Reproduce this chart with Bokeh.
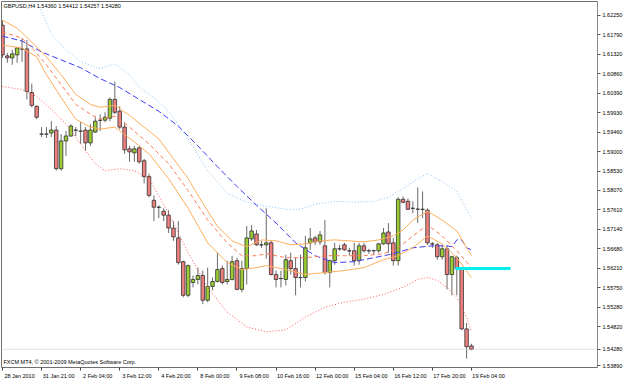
from bokeh.plotting import figure
from bokeh.models import Range1d, FixedTicker, Label, Span, PrintfTickFormatter, ColumnDataSource
from bokeh.embed import file_html
from bokeh.resources import INLINE

# ---------------- data (GBPUSD, H4) ----------------
bars = list(range(97))
opens = [1.62014, 1.61282, 1.61235, 1.61306, 1.61448, 1.61448, 1.60408, 1.60078, 1.59417, 1.59414,
         1.59441, 1.59511, 1.58590, 1.59252, 1.59370, 1.59511, 1.59488, 1.59511, 1.59205, 1.59464,
         1.59747, 1.59747, 1.59795, 1.60243, 1.59960, 1.59582, 1.59063, 1.58968, 1.59087, 1.58779,
         1.58401, 1.57835, 1.57670, 1.57575, 1.57481, 1.57174, 1.56938, 1.56371, 1.55568, 1.55875,
         1.55946, 1.56040, 1.55450, 1.55780, 1.55898, 1.56206, 1.55898, 1.55946, 1.56395, 1.55710,
         1.56206, 1.56914, 1.57032, 1.56773, 1.56773, 1.56820, 1.56064, 1.55969, 1.55946, 1.56395,
         1.56206, 1.55993, 1.55993, 1.56820, 1.56938, 1.56844, 1.56749, 1.56111, 1.56395, 1.56678,
         1.56773, 1.56631, 1.56631, 1.56395, 1.56749, 1.56631, 1.56631, 1.56631, 1.56796, 1.57079,
         1.56820, 1.56395, 1.57859, 1.57811, 1.57646, 1.57625, 1.57622, 1.57599, 1.56796, 1.56773,
         1.56489, 1.56678, 1.56064, 1.56465, 1.56206, 1.54766, 1.54360]
highs = [1.62132, 1.61353, 1.61424, 1.61495, 1.61707, 1.61660, 1.60621, 1.60101, 1.59582, 1.59582,
         1.59724, 1.59606, 1.59417, 1.59488, 1.59653, 1.59582, 1.59700, 1.59582, 1.59653, 1.59818,
         1.59889, 1.59936, 1.60290, 1.60668, 1.60078, 1.59700, 1.59134, 1.59134, 1.59134, 1.58826,
         1.58472, 1.57953, 1.57717, 1.57646, 1.57599, 1.57339, 1.57339, 1.56395, 1.56301, 1.56040,
         1.56229, 1.56158, 1.56229, 1.55993, 1.56584, 1.56277, 1.56395, 1.56513, 1.56465, 1.56395,
         1.57221, 1.57245, 1.57127, 1.56867, 1.57646, 1.56867, 1.56158, 1.56158, 1.56537, 1.56584,
         1.56465, 1.56537, 1.56986, 1.57174, 1.56986, 1.57103, 1.57363, 1.56418, 1.56820, 1.56773,
         1.56820, 1.56702, 1.56820, 1.56820, 1.56820, 1.56678, 1.56655, 1.56820, 1.57174, 1.57292,
         1.56938, 1.57906, 1.57929, 1.57882, 1.57811, 1.58141, 1.58047, 1.57646, 1.56844, 1.56820,
         1.56773, 1.56749, 1.56513, 1.56513, 1.56229, 1.54907, 1.54412]
lows = [1.61235, 1.61116, 1.61069, 1.61116, 1.61140, 1.60243, 1.60054, 1.59771, 1.59346, 1.59323,
        1.59346, 1.58543, 1.58543, 1.58897, 1.59346, 1.59370, 1.59181, 1.59016, 1.59134, 1.59441,
        1.59488, 1.59700, 1.59724, 1.59889, 1.59535, 1.58945, 1.58755, 1.58755, 1.58708, 1.58236,
        1.57906, 1.57339, 1.57410, 1.57339, 1.57056, 1.56867, 1.56301, 1.55521, 1.55521, 1.55757,
        1.55828, 1.55355, 1.55403, 1.55686, 1.55875, 1.55828, 1.55828, 1.55922, 1.55686, 1.55639,
        1.55828, 1.56867, 1.56749, 1.56702, 1.56441, 1.56040, 1.55757, 1.55757, 1.55804, 1.56064,
        1.55568, 1.55757, 1.55898, 1.56655, 1.56773, 1.56773, 1.56064, 1.55757, 1.56301, 1.56631,
        1.56631, 1.56513, 1.56277, 1.56301, 1.56584, 1.56560, 1.56537, 1.56584, 1.56773, 1.56584,
        1.56277, 1.56277, 1.57764, 1.57599, 1.57528, 1.57292, 1.57410, 1.56773, 1.56702, 1.56418,
        1.56418, 1.55710, 1.55568, 1.55568, 1.54742, 1.54057, 1.54257]
closes = [1.61306, 1.61235, 1.61330, 1.61471, 1.61445, 1.60432, 1.60101, 1.59818, 1.59414, 1.59417,
          1.59511, 1.58590, 1.59252, 1.59370, 1.59606, 1.59508, 1.59485, 1.59205, 1.59511, 1.59724,
          1.59744, 1.59818, 1.60243, 1.59936, 1.59582, 1.59039, 1.58992, 1.59063, 1.58755, 1.58401,
          1.57953, 1.57670, 1.57667, 1.57481, 1.57174, 1.56962, 1.56348, 1.55568, 1.56277, 1.55946,
          1.56040, 1.55450, 1.55780, 1.55898, 1.56182, 1.55875, 1.55946, 1.56371, 1.55710, 1.56206,
          1.56938, 1.57103, 1.56773, 1.56770, 1.56820, 1.56064, 1.55946, 1.55966, 1.56418, 1.56206,
          1.55993, 1.55990, 1.56702, 1.56914, 1.56844, 1.57009, 1.56111, 1.56395, 1.56678, 1.56675,
          1.56655, 1.56628, 1.56395, 1.56749, 1.56631, 1.56628, 1.56634, 1.56796, 1.57056, 1.56796,
          1.56395, 1.57859, 1.57788, 1.57622, 1.57643, 1.57622, 1.57619, 1.56820, 1.56793, 1.56489,
          1.56678, 1.56064, 1.56489, 1.56206, 1.54766, 1.54341, 1.54280]

# indicator lines (bar index, price)
upper_dot_bars = [0, 4, 7, 10, 13, 16, 20, 23, 26, 28, 31, 34, 38, 42, 46, 50, 54, 58, 61, 64,
                  68, 72, 76, 79, 82, 85, 87, 90, 93, 96]
upper_dot_vals = [1.63666, 1.63123, 1.62604, 1.61801, 1.61424, 1.61140, 1.60975, 1.61093, 1.60833, 1.60526,
                  1.60290, 1.59960, 1.59299, 1.58543, 1.58000, 1.57788, 1.57693, 1.57622, 1.57622, 1.57740,
                  1.57811, 1.57788, 1.57811, 1.57906, 1.58118, 1.58354, 1.58472, 1.58283, 1.58047, 1.57410]
ma_bars = [0, 4, 8, 12, 16, 20, 24, 28, 32, 36, 40, 44, 48, 52, 56, 60, 64, 68, 72, 76,
           80, 84, 88, 91, 92, 93, 94, 95, 96]
ma_vals = [1.61754, 1.61636, 1.61376, 1.61187, 1.60999, 1.60739, 1.60526, 1.60243, 1.59960, 1.59606,
           1.59133, 1.58638, 1.58165, 1.57717, 1.57292, 1.56820, 1.56513, 1.56348, 1.56371, 1.56465,
           1.56560, 1.56702, 1.56749, 1.56749, 1.56725, 1.56891, 1.56891, 1.56702, 1.56655]
env_up_bars = [0, 3, 6, 9, 12, 15, 18, 20, 23, 26, 29, 32, 35, 38, 41, 44, 47, 50, 53, 56,
               59, 62, 65, 68, 71, 74, 77, 80, 82, 84, 87, 90, 93, 96]
env_up_vals = [1.62132, 1.61943, 1.61612, 1.61258, 1.60833, 1.60361, 1.60125, 1.60054, 1.60101, 1.59865,
               1.59582, 1.59299, 1.58826, 1.58354, 1.57764, 1.57221, 1.56867, 1.56725, 1.56891, 1.56867,
               1.56773, 1.56796, 1.56867, 1.56891, 1.56867, 1.56843, 1.56891, 1.56985, 1.57127, 1.57363,
               1.57575, 1.57363, 1.57103, 1.56513]
env_mid_bars = [0, 4, 6, 9, 12, 15, 18, 20, 23, 26, 30, 34, 38, 42, 46, 49, 52, 54, 58, 62,
                66, 70, 74, 78, 81, 84, 87, 90, 93, 96]
env_mid_vals = [1.61849, 1.61707, 1.61471, 1.61069, 1.60597, 1.60125, 1.59889, 1.59771, 1.59842, 1.59582,
                1.59181, 1.58708, 1.58071, 1.57363, 1.56820, 1.56513, 1.56513, 1.56560, 1.56465, 1.56465,
                1.56513, 1.56513, 1.56513, 1.56560, 1.56702, 1.56985, 1.57245, 1.56985, 1.56631, 1.56229]
env_lo_bars = [0, 4, 7, 9, 12, 15, 18, 20, 23, 27, 30, 34, 38, 42, 46, 49, 52, 54, 58, 62,
               66, 70, 74, 78, 81, 84, 87, 90, 93, 96]
env_lo_vals = [1.61540, 1.61471, 1.61258, 1.60833, 1.60290, 1.59771, 1.59582, 1.59535, 1.59582, 1.59228,
               1.58944, 1.58354, 1.57646, 1.56820, 1.56348, 1.56182, 1.56229, 1.56277, 1.56182, 1.56064,
               1.56111, 1.56159, 1.56229, 1.56418, 1.56513, 1.56702, 1.56985, 1.56796, 1.56465, 1.55993]
lower_dot_bars = [0, 4, 7, 10, 13, 16, 19, 21, 24, 27, 30, 34, 38, 42, 46, 50, 54, 58, 62, 66,
                  70, 74, 78, 82, 85, 87, 89, 91, 93, 95, 96]
lower_dot_vals = [1.60550, 1.60479, 1.60314, 1.60007, 1.59653, 1.59181, 1.58708, 1.58543, 1.58590, 1.58543,
                  1.58354, 1.57528, 1.56584, 1.55757, 1.55167, 1.54813, 1.54695, 1.54742, 1.55049, 1.55285,
                  1.55403, 1.55474, 1.55592, 1.55757, 1.55946, 1.55993, 1.55922, 1.55757, 1.55521, 1.55049,
                  1.54695]

level_price = 1.56210
level_from, level_to = 92.7, 104.0
bid_price = 1.54280

# price scale: the current bid (1.54280) is shown in place of the hidden 1.54350 level
price_ticks = [1.62250, 1.61790, 1.61320, 1.60860, 1.60390, 1.59930, 1.59460, 1.59000, 1.58530,
               1.58070, 1.57610, 1.57140, 1.56680, 1.56210, 1.55750, 1.55280, 1.54820, 1.54280, 1.53890]
date_tick_bars = [0, 8, 16, 24, 32, 40, 48, 56, 64, 72, 80, 88, 96]
date_labels = ["28 Jan 2010", "31 Jan 21:00", "2 Feb 04:00", "3 Feb 12:00", "4 Feb 20:00",
               "8 Feb 00:00", "9 Feb 08:00", "10 Feb 16:00", "12 Feb 00:00", "15 Feb 04:00",
               "16 Feb 12:00", "17 Feb 20:00", "19 Feb 04:00"]

title_text = "GBPUSD,H4  1.54360 1.54412 1.54257 1.54280"
footer_text = "FXCM MT4, \u00a9 2001-2009 MetaQuotes Software Corp."

# ---------------- figure ----------------
FONT = "Liberation Sans"
FS = "5.5px"
X_END = 121.8

p = figure(width=625, height=381, output_backend="svg", toolbar_location=None,
           x_range=Range1d(-0.2, X_END), y_range=Range1d(1.53845, 1.62580),
           y_axis_location="right", min_border_left=1, min_border_top=1,
           min_border_right=0, min_border_bottom=0)
p.grid.visible = False
p.outline_line_color = "#6f6f6f"
p.background_fill_color = "white"
p.border_fill_color = "white"

# candles
bull = [c >= o for o, c in zip(opens, closes)]
src = ColumnDataSource(dict(
    x=bars, o=opens, h=highs, l=lows, c=closes,
    top=[max(o, c) for o, c in zip(opens, closes)],
    bot=[min(o, c) for o, c in zip(opens, closes)],
    fill=["#9acd32" if b else "#ef8080" for b in bull],
))
p.segment(x0="x", y0="h", x1="x", y1="l", source=src, line_color="#6a6a6a", line_width=1)
p.vbar(x="x", width=0.72, top="top", bottom="bot", source=src,
       fill_color="fill", line_color="#303030", line_width=0.8)

# indicators
p.line(upper_dot_bars, upper_dot_vals, line_color="#8ec4f8", line_width=1, line_dash="1 2")
p.line(ma_bars, ma_vals, line_color="#3c3cf0", line_width=1, line_dash="6 3")
p.line(env_up_bars, env_up_vals, line_color="#ffae5e", line_width=1)
p.line(env_mid_bars, env_mid_vals, line_color="#ff7a55", line_width=1, line_dash="4 3")
p.line(env_lo_bars, env_lo_vals, line_color="#ffae5e", line_width=1)
p.line(lower_dot_bars, lower_dot_vals, line_color="#ff5a5a", line_width=1, line_dash="1 2")

p.segment(x0=[level_from], y0=[level_price], x1=[level_to], y1=[level_price],
          line_color="#00f0f0", line_width=3)

p.add_layout(Span(location=bid_price, dimension="width", line_color="#c8c8c8",
                  line_width=1, line_dash="1 1"))

# axes
xa = p.xaxis[0]
label_shift = 3.5
label_pos = [b + label_shift for b in date_tick_bars]
xa.ticker = FixedTicker(ticks=label_pos, minor_ticks=date_tick_bars)
xa.major_label_overrides = {pos: lab for pos, lab in zip(label_pos, date_labels)}
xa.major_tick_out = 0
xa.major_tick_in = 0
xa.minor_tick_out = 3
xa.minor_tick_in = 0
xa.minor_tick_line_color = "#444444"
xa.axis_line_color = None
xa.major_label_standoff = 2
xa.major_label_text_font = FONT
xa.major_label_text_font_size = FS
xa.major_label_text_color = "black"

ya = p.yaxis[0]
ya.ticker = FixedTicker(ticks=price_ticks)
ya.formatter = PrintfTickFormatter(format="%.5f")
ya.major_tick_out = 3
ya.major_tick_in = 0
ya.major_tick_line_color = "#555555"
ya.axis_line_color = "#8a8a8a"
ya.major_label_standoff = 2
ya.major_label_text_font = FONT
ya.major_label_text_font_size = FS
ya.major_label_text_color = "black"

# texts
p.add_layout(Label(x=0.2, y=1.62462, text=title_text, text_font=FONT, text_font_size=FS,
                   text_color="black", text_baseline="middle", text_align="left"))
p.add_layout(Label(x=0.2, y=1.53987, text=footer_text, text_font=FONT, text_font_size=FS,
                   text_color="black", text_baseline="middle", text_align="left"))

open("out.html", "w").write(file_html(p, INLINE))
